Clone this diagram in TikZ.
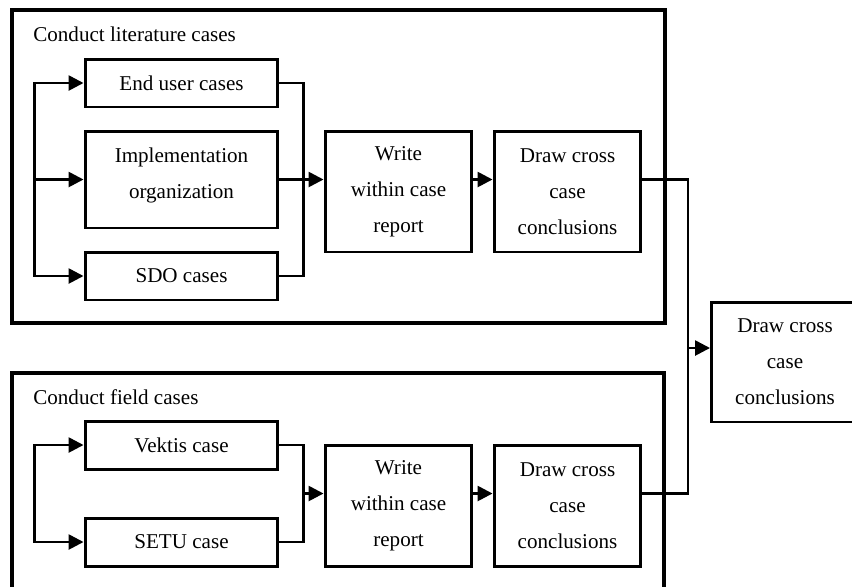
\documentclass[tikz,border=0pt]{standalone}
\usepackage{fontspec}
\setmainfont{Liberation Serif}
\usetikzlibrary{arrows.meta,calc}

\begin{document}
\begin{tikzpicture}[x=0.02cm,y=-0.02cm,>={Triangle[length=0.3cm,width=0.3cm]},
    box/.style={draw,line width=1.7pt,align=center,inner sep=0pt,font=\fontsize{12}{20.4}\selectfont},
    casebox/.style={box,minimum width=3.86cm,minimum height=0.96cm},
    stepbox/.style={box,minimum width=2.94cm,minimum height=2.42cm},
    frame/.style={line width=1.8pt},
    link/.style={line width=1.5pt},
    title/.style={anchor=base west,inner sep=0pt,font=\fontsize{12}{14}\selectfont}]
  \clip (0,0) rectangle (852,586);
  % literature cases
  \draw[frame] (12,10) rectangle (665,323);
  \node[title] (littl) at (33,41) {Conduct literature cases};
  \node[casebox] (endu) at (181.5,83) {End user cases};
  \node[casebox,minimum height=1.94cm,text depth=0.25cm] (impl) at (181.5,179.5) {Implementation\\organization};
  \node[casebox] (sdo) at (181.5,276) {SDO cases};
  \node[stepbox] (writeA) at (398.5,191.5) {Write\\within case\\report};
  \node[stepbox] (crossA) at (567.5,191.5) {Draw cross\\case\\conclusions};
  % field cases
  \draw[frame] (12,600) |- (664,373) -- (664,600);
  \node[title] (fldtl) at (33,404) {Conduct field cases};
  \node[casebox] (vek) at (181.5,445) {Vektis case};
  \node[casebox] (setu) at (181.5,542) {SETU case};
  \node[stepbox] (writeB) at (398.5,506) {Write\\within case\\report};
  \node[stepbox] (crossB) at (567.5,506) {Draw cross\\case\\conclusions};
  % overall
  \node[stepbox,minimum height=2.4cm] (fin) at (785,362) {Draw cross\\case\\conclusions};

  \coordinate (spA) at ($(impl.west)+(-49,0)$);
  \coordinate (mgA) at ($(impl.east)+(24,0)$);
  \draw[link,->] (spA) |- (endu.west);
  \draw[link,->] (spA) -- (impl.west);
  \draw[link,->] (spA) |- (sdo.west);
  \draw[link] (endu.east) -| (mgA) |- (sdo.east);
  \draw[link,->] (impl.east) -- (impl.east -| writeA.west);
  \draw[link,->] (impl.east -| writeA.east) -- (impl.east -| crossA.west);

  \coordinate (spB) at ($(vek.west)!0.5!(setu.west)+(-49,0)$);
  \coordinate (mgB) at ($(vek.east)!0.5!(setu.east)+(24,0)$);
  \draw[link,->] (spB) |- (vek.west);
  \draw[link,->] (spB) |- (setu.west);
  \draw[link] (vek.east) -| (mgB) |- (setu.east);
  \draw[link,->] (mgB) -- (mgB -| writeB.west);
  \draw[link,->] (mgB -| writeB.east) -- (mgB -| crossB.west);

  \coordinate (jn) at (688,348);
  \draw[link] (impl.east -| crossA.east) -| (jn);
  \draw[link] (mgB -| crossB.east) -| (jn);
  \draw[link,->] (jn) -- (jn -| fin.west);
\end{tikzpicture}
\end{document}
